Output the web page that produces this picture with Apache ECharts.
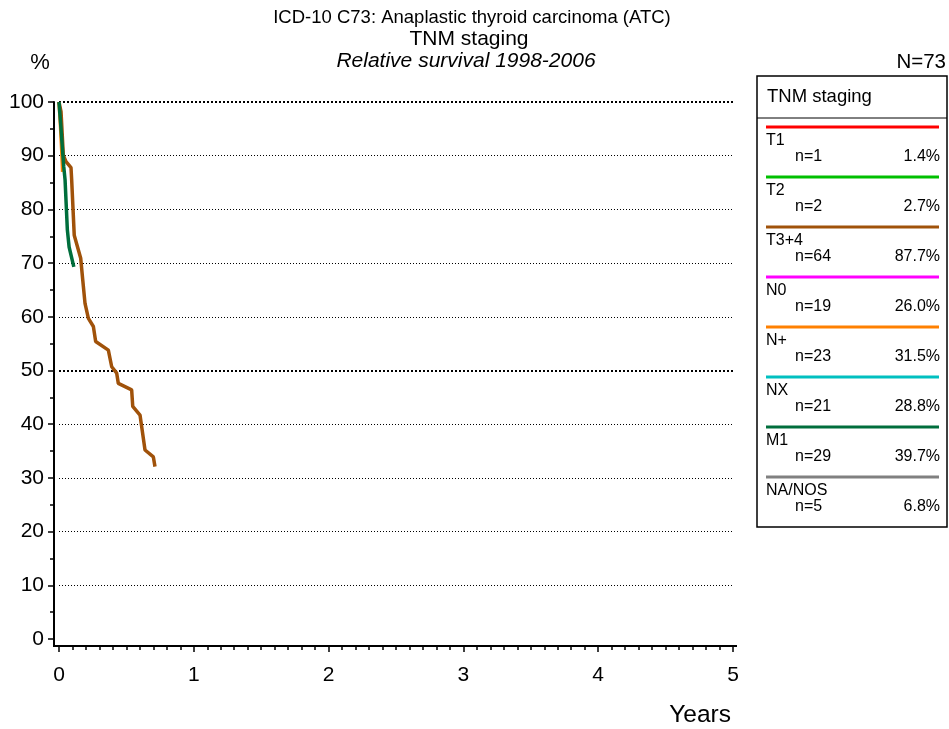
<!DOCTYPE html>
<html>
<head>
<meta charset="utf-8">
<script src="https://cdn.jsdelivr.net/npm/echarts@6/dist/echarts.min.js"></script>
<style>html,body{margin:0;padding:0;background:#fff;}#chart{width:949px;height:729px;}</style>
</head>
<body>
<div id="chart"></div>
<script>
// ---- data ----
const titleLines = ['ICD-10 C73: Anaplastic thyroid carcinoma (ATC)', 'TNM staging', 'Relative survival 1998-2006'];
const totalN = 'N=73';
const xTicks = [0, 1, 2, 3, 4, 5];
const yTicks = [0, 10, 20, 30, 40, 50, 60, 70, 80, 90, 100];
const gridLevels = [10, 20, 30, 40, 60, 70, 80, 90];
const boldGridLevels = [50, 100];

const legendTitle = 'TNM staging';
const legendNames = ['T1', 'T2', 'T3+4', 'N0', 'N+', 'NX', 'M1', 'NA/NOS'];
const legendCounts = [1, 2, 64, 19, 23, 21, 29, 5];
const legendPcts = ['1.4%', '2.7%', '87.7%', '26.0%', '31.5%', '28.8%', '39.7%', '6.8%'];

// survival curves (years, %)
const npYears = [0, 0.01, 0.02, 0.027];
const npSurv = [100, 96, 91, 87];

const t34Years = [0, 0.015, 0.032, 0.052, 0.089, 0.094, 0.113, 0.161, 0.176, 0.193, 0.218, 0.255, 0.272, 0.366, 0.391, 0.428, 0.44, 0.539, 0.547, 0.601, 0.638, 0.70, 0.712];
const t34Surv = [100, 98.2, 90.1, 88.9, 87.8, 85.5, 75.2, 70.9, 66.9, 62.5, 59.7, 58.2, 55.4, 53.8, 50.7, 49.5, 47.6, 46.4, 43.3, 41.7, 35.2, 33.9, 32.1];

const m1Years = [0, 0.015, 0.035, 0.045, 0.062, 0.075, 0.11];
const m1Surv = [100, 95, 88, 85.5, 76.2, 73, 69.3];

// ---- styling ----
const FONT = '"Liberation Sans", Arial, sans-serif';
const legendColors = ['#FF0000', '#00C000', '#A0520A', '#FF00FF', '#FF8000', '#00C0C0', '#006E3C', '#808080'];
const colorOf = name => legendColors[legendNames.indexOf(name)];
const pairs = (xs, ys) => xs.map((x, i) => [x, ys[i]]);

const chart = echarts.init(document.getElementById('chart'), null, { renderer: 'canvas' });

const graphics = [];
const txt = (text, x, y, font, align, z) => ({
  type: 'text', z: z || 1,
  style: { text, x, y, font: font + ' ' + FONT, fill: '#000', textAlign: align || 'left', textVerticalAlign: 'middle' }
});
// titles
graphics.push(txt(titleLines[0], 472, 18, '18.5px', 'center'));
graphics.push(txt(titleLines[1], 469, 39, '21px', 'center'));
graphics.push(txt(titleLines[2], 466, 61, 'italic 21px', 'center'));
graphics.push(txt('%', 40, 63, '22px', 'center'));
graphics.push(txt(totalN, 946, 62, '20.5px', 'right'));
graphics.push(txt('Years', 731, 715, '24.5px', 'right'));
// axis corner join and overhang
graphics.push({ type: 'polyline', shape: { points: [[54, 638], [54, 646], [60, 646]] }, style: { stroke: '#000', lineWidth: 2, fill: null } });
graphics.push({ type: 'line', shape: { x1: 732, y1: 646, x2: 737, y2: 646 }, style: { stroke: '#000', lineWidth: 2 } });

// legend box
const boxL = 757, boxT = 76, boxR = 947, boxB = 527;
graphics.push({ type: 'rect', shape: { x: boxL, y: boxT, width: boxR - boxL, height: boxB - boxT }, style: { stroke: '#000', lineWidth: 1.5, fill: '#fff' }, z: 10 });
graphics.push({ type: 'line', shape: { x1: boxL, y1: 118, x2: boxR, y2: 118 }, style: { stroke: '#000', lineWidth: 1 }, z: 11 });
graphics.push(txt(legendTitle, 767, 97, '18.5px', 'left', 11));
legendNames.forEach((name, i) => {
  const y0 = 127 + i * 50;
  graphics.push({ type: 'line', shape: { x1: 766, y1: y0, x2: 939, y2: y0 }, style: { stroke: legendColors[i], lineWidth: 3 }, z: 11 });
  graphics.push(txt(name, 766, y0 + 14, '16px', 'left', 11));
  graphics.push(txt('n=' + legendCounts[i], 795, y0 + 30, '16px', 'left', 11));
  graphics.push(txt(legendPcts[i], 940, y0 + 30, '16px', 'right', 11));
});

const lineSeries = (name, data) => ({
  name, type: 'line', data, showSymbol: false, symbol: 'none',
  lineStyle: { color: colorOf(name), width: 3.5 }, itemStyle: { color: colorOf(name) },
  animation: false, z: 5
});

const series = [
  // grid lines (dotted)
  {
    type: 'line', data: [], silent: true, animation: false, z: 1,
    markLine: {
      silent: true, symbol: 'none', label: { show: false }, animation: false,
      data: gridLevels.map(v => ({ yAxis: v, lineStyle: { color: '#000', type: [1, 2], width: 1 } }))
        .concat(boldGridLevels.map(v => ({ yAxis: v, lineStyle: { color: '#000', type: [2, 2], width: 2 } })))
    }
  },
  lineSeries('N+', pairs(npYears, npSurv)),
  lineSeries('T3+4', pairs(t34Years, t34Surv)),
  lineSeries('M1', pairs(m1Years, m1Surv))
];

chart.setOption({
  animation: false,
  backgroundColor: '#fff',
  grid: { left: 59, right: 949 - 733, top: 102, bottom: 729 - 639, containLabel: false },
  xAxis: {
    type: 'value', min: xTicks[0], max: xTicks[xTicks.length - 1], interval: 1, offset: 7,
    axisLine: { show: true, onZero: false, lineStyle: { color: '#000', width: 2 } },
    axisTick: { show: true, length: 6, lineStyle: { color: '#000', width: 1.5 } },
    minorTick: { show: true, splitNumber: 10, length: 4, lineStyle: { color: '#000', width: 1.5 } },
    axisLabel: { color: '#000', fontSize: 21, fontFamily: FONT, margin: 19 },
    splitLine: { show: false }
  },
  yAxis: {
    type: 'value', min: yTicks[0], max: yTicks[yTicks.length - 1], interval: 10, offset: 5,
    axisLine: { show: true, onZero: false, lineStyle: { color: '#000', width: 2 } },
    axisTick: { show: true, length: 6, lineStyle: { color: '#000', width: 1.5 } },
    minorTick: { show: true, splitNumber: 2, length: 4, lineStyle: { color: '#000', width: 1.5 } },
    axisLabel: { color: '#000', fontSize: 21, fontFamily: FONT, margin: 10 },
    splitLine: { show: false }
  },
  series,
  graphic: graphics
});
</script>
</body>
</html>
